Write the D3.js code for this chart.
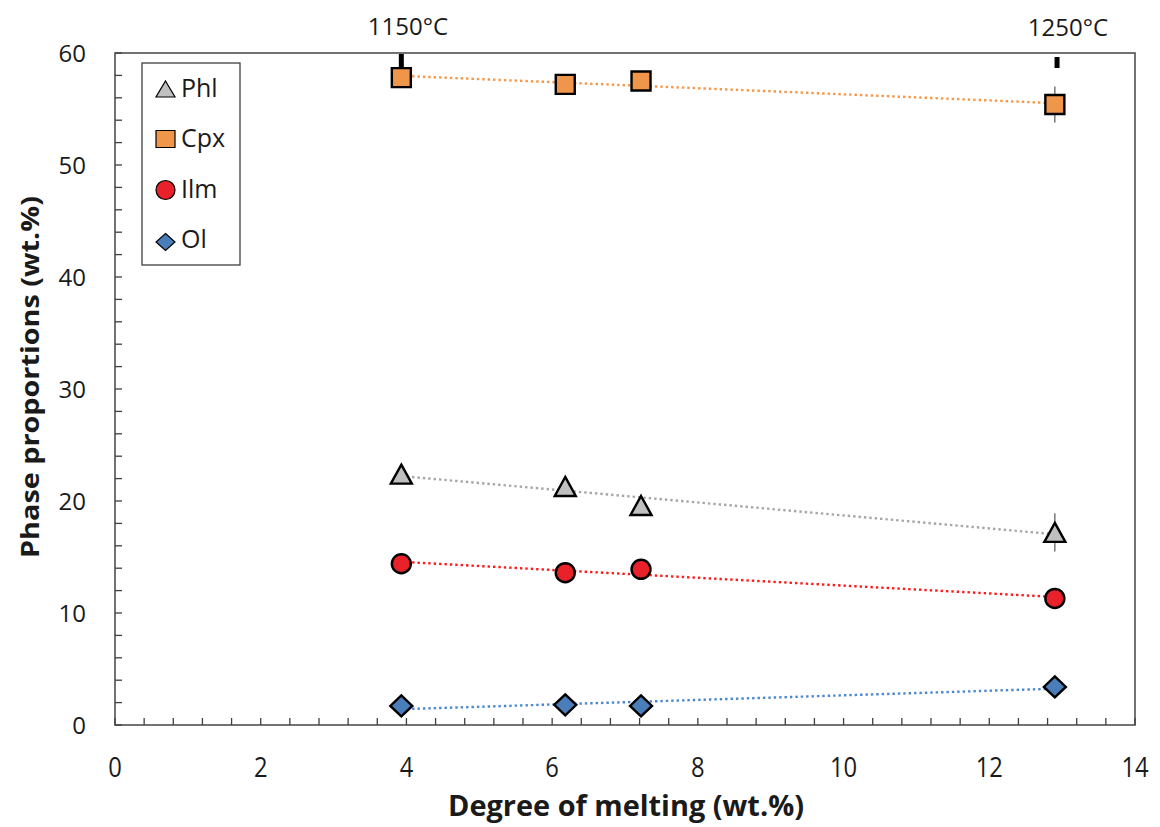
<!DOCTYPE html>
<html><head><meta charset="utf-8">
<script src="https://cdn.jsdelivr.net/npm/d3@7"></script>
<style>body{margin:0;background:#fff}svg{display:block}</style>
</head><body>
<svg id="c" width="1160" height="827"></svg>
<script>
const meltX = [3.93, 6.18, 7.22, 12.9];
const phl = [22.4, 21.3, 19.6, 17.2];
const cpx = [57.8, 57.2, 57.5, 55.4];
const ilm = [14.4, 13.6, 13.9, 11.3];
const ol  = [1.7, 1.8, 1.7, 3.4];
const phlErr = [0.5, 0.5, 0.5, 1.7];
const cpxErr = [0.5, 0.6, 0.8, 1.6];
const ilmErr = [0.4, 0.4, 0.4, 0.4];
const olErr  = [0.3, 0.3, 0.3, 0.3];
const seriesNames = ["Phl", "Cpx", "Ilm", "Ol"];
const xTicks = [0, 2, 4, 6, 8, 10, 12, 14];
const yTicks = [0, 10, 20, 30, 40, 50, 60];
const tempLabels = ["1150°C", "1250°C"];
const tempX = [3.93, 12.93];

const series = [
  {name:"Phl", y:phl, err:phlErr, shape:"tri", fill:"#bfbfbf", line:"#a6a6a6"},
  {name:"Cpx", y:cpx, err:cpxErr, shape:"sq", fill:"#f0964a", line:"#f79646"},
  {name:"Ilm", y:ilm, err:ilmErr, shape:"circ", fill:"#e8212a", line:"#ff1a1a"},
  {name:"Ol",  y:ol,  err:olErr,  shape:"dia", fill:"#4a7ebb", line:"#4a86d0"}
];

const L=115, R=1135, T=53, B=725;
const x = d3.scaleLinear().domain([0,14]).range([L,R]);
const y = d3.scaleLinear().domain([0,60]).range([B,T]);
const svg = d3.select("#c");

// frame
svg.append("rect").attr("x",L).attr("y",T).attr("width",R-L).attr("height",B-T)
  .attr("fill","none").attr("stroke","#505050").attr("stroke-width",1.6);

// inward ticks
const xAll = d3.range(0, 14.001, 0.4);
svg.append("g").selectAll("line").data(xAll).join("line")
  .attr("x1",d=>x(d)).attr("x2",d=>x(d)).attr("y1",B).attr("y2",B-7)
  .attr("stroke","#404040").attr("stroke-width",1.3);
const yAll = d3.range(0, 60.001, 2);
svg.append("g").selectAll("line").data(yAll).join("line")
  .attr("y1",d=>y(d)).attr("y2",d=>y(d)).attr("x1",L).attr("x2",L+7)
  .attr("stroke","#404040").attr("stroke-width",1.3);

// tick labels
svg.append("g").selectAll("text").data(xTicks).join("text")
  .attr("x",d=>x(d)).attr("y",777).attr("text-anchor","middle")
  .attr("font-family","'Open Sans',sans-serif").attr("font-size",27)
  .attr("fill","#1a1a1a").attr("transform",d=>`translate(${x(d)*0.12},0) scale(0.88,1)`).text(d=>d);
svg.append("g").selectAll("text").data(yTicks).join("text")
  .attr("x",86).attr("y",d=>y(d)+9).attr("text-anchor","end")
  .attr("font-family","'Open Sans',sans-serif").attr("font-size",24)
  .attr("fill","#1a1a1a").text(d=>d);

// axis titles
svg.append("text").attr("x",626).attr("y",816).attr("text-anchor","middle")
  .attr("font-family","'Open Sans',sans-serif").attr("font-weight","bold")
  .attr("font-size",28).attr("textLength",356).attr("lengthAdjust","spacingAndGlyphs")
  .attr("fill","#1a1a1a").text("Degree of melting (wt.%)");
svg.append("text").attr("transform","translate(39,377) rotate(-90)").attr("text-anchor","middle")
  .attr("font-family","'Open Sans',sans-serif").attr("font-weight","bold")
  .attr("font-size",25).attr("textLength",362).attr("lengthAdjust","spacingAndGlyphs")
  .attr("fill","#1a1a1a").text("Phase proportions (wt.%)");

// temperature labels and marks
const tempLabX = [408, 1068];
svg.append("g").selectAll("text").data(tempLabels).join("text")
  .attr("x",(d,i)=>tempLabX[i]).attr("y",(d,i)=>i===0?35:36).attr("text-anchor","middle")
  .attr("font-family","'Open Sans',sans-serif").attr("font-size",24)
  .attr("fill","#1a1a1a").text(d=>d);
svg.append("rect").attr("x",x(tempX[0])-2.5).attr("y",T+1).attr("width",5).attr("height",15).attr("fill","#000");
svg.append("rect").attr("x",x(tempX[1])-2.5).attr("y",57).attr("width",5).attr("height",11).attr("fill","#000");

// trend lines (least squares)
function fit(xs, ys){
  const mx=d3.mean(xs), my=d3.mean(ys);
  const b=d3.sum(xs,(v,i)=>(v-mx)*(ys[i]-my))/d3.sum(xs,v=>(v-mx)*(v-mx));
  return [b, my-b*mx];
}
const x0=d3.min(meltX), x1=d3.max(meltX);
series.forEach(s=>{
  const [b,a]=fit(meltX,s.y);
  svg.append("line").attr("x1",x(x0)).attr("x2",x(x1))
    .attr("y1",y(a+b*x0)).attr("y2",y(a+b*x1))
    .attr("stroke",s.line).attr("stroke-width",2.4).attr("stroke-dasharray","2.4,3");
});

// error bars
series.forEach(s=>{
  svg.append("g").selectAll("line").data(meltX).join("line")
    .attr("x1",d=>x(d)).attr("x2",d=>x(d))
    .attr("y1",(d,i)=>y(s.y[i]-s.err[i])).attr("y2",(d,i)=>y(s.y[i]+s.err[i]))
    .attr("stroke","#555").attr("stroke-width",1.2);
});

function shapePath(shape, w, h){
  const a=w/2, b=h/2;
  if(shape==="tri") return `M0,${-b}L${a},${b}L${-a},${b}Z`;
  if(shape==="sq") return `M${-a},${-b}H${a}V${b}H${-a}Z`;
  if(shape==="dia") return `M0,${-b}L${a},0L0,${b}L${-a},0Z`;
  return null;
}
function drawMarker(g, s, cx, cy, w, h, sw){
  if(s.shape==="circ"){
    g.append("circle").attr("cx",cx).attr("cy",cy).attr("r",w/2)
      .attr("fill",s.fill).attr("stroke","#000").attr("stroke-width",sw);
  } else {
    g.append("path").attr("d",shapePath(s.shape,w,h)).attr("transform",`translate(${cx},${cy})`)
      .attr("fill",s.fill).attr("stroke","#000").attr("stroke-width",sw).attr("stroke-linejoin","miter");
  }
}
const plotSize = {tri:[21,19], sq:[19,19], circ:[19,19], dia:[22,21]};
const mg = svg.append("g");
series.forEach(s=>{
  meltX.forEach((d,i)=>drawMarker(mg, s, x(d), y(s.y[i]), plotSize[s.shape][0], plotSize[s.shape][1], 2.4));
});

// legend
svg.append("rect").attr("x",142).attr("y",63).attr("width",98).attr("height",202)
  .attr("fill","#fff").attr("stroke","#404040").attr("stroke-width",1.3);
const legY=[89,139,190,242];
const legSize = {tri:[19,16], sq:[19,17], circ:[19,19], dia:[19,17]};
series.forEach((s,i)=>{
  drawMarker(svg, s, 165.5, legY[i], legSize[s.shape][0], legSize[s.shape][1], 1.2);
  svg.append("text").attr("x",181).attr("y",[97,147,198,248][i]).attr("font-family","'Open Sans',sans-serif")
    .attr("font-size",25).attr("fill","#1a1a1a").text(seriesNames[i]);
});
</script>
</body></html>
